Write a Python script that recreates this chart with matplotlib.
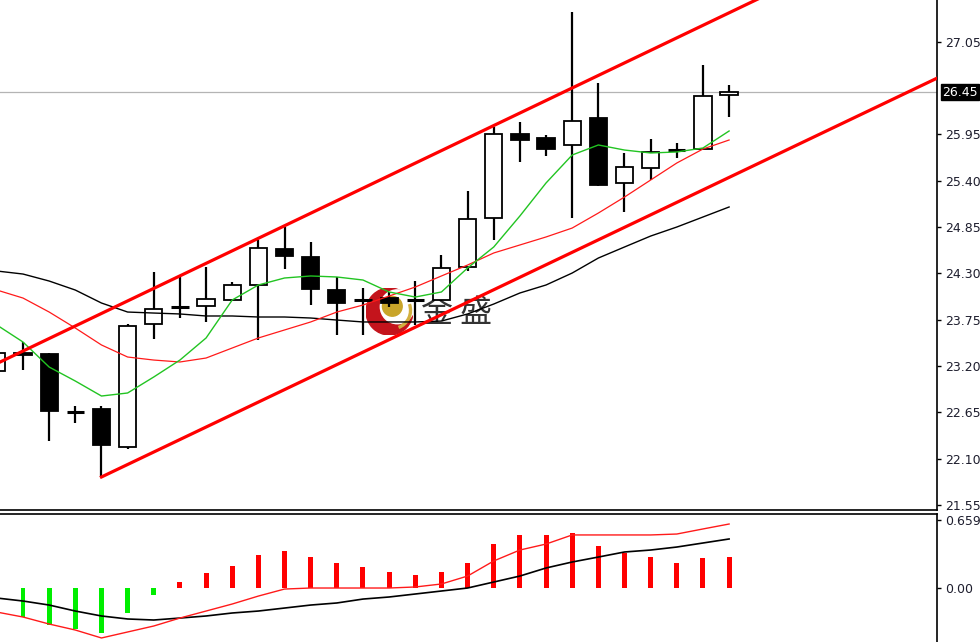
import matplotlib.pyplot as plt
import matplotlib.patches as mpatches
import matplotlib.transforms as mtransforms
import numpy as np

plt.rcParams['font.family'] = ['DejaVu Sans']

# daily candles, oldest -> newest (index 0 is cut by the left edge)
opens = [23.141, 23.355, 23.343, 22.654, 22.690, 22.239, 23.699, 23.905, 23.912, 23.984,
         24.162, 24.589, 24.494, 24.102, 23.984, 24.007, 23.984, 23.984, 24.375, 24.957,
         25.954, 25.907, 25.824, 26.144, 25.373, 25.551, 25.764, 25.776, 26.420]
highs = [23.390, 23.485, 23.355, 22.725, 22.725, 23.699, 24.316, 24.257, 24.375, 24.197,
         24.696, 24.850, 24.672, 24.257, 24.126, 24.079, 24.209, 24.518, 25.278, 26.037,
         26.097, 25.942, 27.403, 26.560, 25.729, 25.895, 25.847, 26.773, 26.536]
lows = [23.117, 23.153, 22.310, 22.524, 21.883, 22.215, 23.521, 23.770, 23.723, 23.970,
        23.509, 24.352, 23.924, 23.568, 23.568, 23.901, 23.687, 23.970, 24.328, 24.696,
        25.622, 25.693, 24.957, 25.340, 25.028, 25.408, 25.669, 25.770, 26.156]
closes = [23.355, 23.331, 22.666, 22.654, 22.262, 23.675, 23.877, 23.905, 23.996, 24.162,
          24.601, 24.506, 24.114, 23.948, 23.984, 23.948, 23.984, 24.364, 24.945, 25.954,
          25.883, 25.776, 26.109, 25.349, 25.563, 25.741, 25.764, 26.405, 26.450]

# moving averages
ma_fast = [23.687, 23.485, 23.188, 23.022, 22.844, 22.880, 23.070, 23.271, 23.533, 23.984,
           24.162, 24.245, 24.269, 24.257, 24.221, 24.079, 24.019, 24.079, 24.364, 24.613,
           24.981, 25.373, 25.705, 25.824, 25.764, 25.729, 25.741, 25.788, 25.990]
ma_mid = [24.102, 24.007, 23.841, 23.651, 23.450, 23.307, 23.271, 23.248, 23.295, 23.414,
          23.533, 23.628, 23.723, 23.841, 23.924, 24.031, 24.138, 24.269, 24.399, 24.542,
          24.637, 24.732, 24.838, 25.016, 25.206, 25.408, 25.610, 25.776, 25.883]
ma_slow = [24.328, 24.292, 24.209, 24.102, 23.948, 23.841, 23.829, 23.818, 23.794, 23.794,
           23.782, 23.782, 23.770, 23.746, 23.723, 23.723, 23.723, 23.734, 23.818, 23.936,
           24.067, 24.162, 24.304, 24.482, 24.613, 24.743, 24.850, 24.969, 25.088]

# channel anchors (candle index, price)
upper_a, upper_b = (1, 23.378), (28, 27.393)
lower_a, lower_b = (4, 21.883), (28, 25.439)

last_price = 26.45
price_ticks = [21.55, 22.10, 22.65, 23.20, 23.75, 24.30, 24.85, 25.40, 25.95, 27.05]

# MACD panel
macd_hist = [np.nan, -0.281, -0.359, -0.397, -0.436, -0.242, -0.068, 0.058, 0.145, 0.213,
             0.320, 0.359, 0.300, 0.242, 0.203, 0.155, 0.126, 0.155, 0.242, 0.422,
             0.514, 0.514, 0.533, 0.407, 0.339, 0.300, 0.242, 0.291, 0.300]
macd_black = [-0.097, -0.126, -0.165, -0.223, -0.271, -0.300, -0.310, -0.291, -0.271, -0.242,
              -0.223, -0.194, -0.165, -0.145, -0.107, -0.087, -0.058, -0.029, 0.000, 0.058,
              0.116, 0.194, 0.252, 0.300, 0.349, 0.368, 0.397, 0.436, 0.475]
macd_red = [-0.233, -0.281, -0.349, -0.407, -0.484, -0.426, -0.368, -0.291, -0.223, -0.155,
            -0.078, -0.010, 0.000, 0.000, 0.000, 0.000, 0.010, 0.039, 0.116, 0.262,
            0.368, 0.426, 0.514, 0.514, 0.514, 0.514, 0.523, 0.572, 0.620]
macd_ticks = [0.659, 0.0]
macd_tick_labels = ['0.659', '0.00']

idx = np.arange(len(opens))

fig = plt.figure(figsize=(9.8, 6.42), dpi=100)
fig.patch.set_facecolor('white')

ax = fig.add_axes([0, 1 - 510 / 642, 937 / 980, 510 / 642])
ax.set_facecolor('none')
ax.set_zorder(1)
sub = fig.add_axes([0, 0, 937 / 980, 1 - 514 / 642])

# logo behind the candles
logo = fig.add_axes([366 / 980, 1 - 335 / 642, 47 / 980, 47 / 642])
logo.set_zorder(0)
logo.set_xlim(-1, 1)
logo.set_ylim(-1, 1)
logo.axis('off')
logo.add_patch(mpatches.Circle((0, 0), 1.0, color='#c4141c'))
logo.add_patch(mpatches.Circle((0.33, 0.2), 0.72, color='white'))
logo.add_patch(mpatches.Circle((0.12, 0.22), 0.42, color='#c9a52a'))
logo.add_patch(mpatches.Arc((0.12, 0.05), 1.55, 1.55, theta1=-70, theta2=20,
                            color='#d2b040', lw=2.4))

ax.text(421 / 937, (510 - 313) / 510, '金 盛', transform=ax.transAxes,
        family=['Noto Sans CJK SC', 'DejaVu Sans'], fontsize=23, color='#333333',
        ha='left', va='center', zorder=0.5)

# current price line
ax.axhline(last_price, color='#b4b4b4', lw=0.9, zorder=1)

# candles
w = 0.66
for i, o, h, l, c in zip(idx, opens, highs, lows, closes):
    ax.vlines(i, l, h, color='black', lw=1.6, zorder=2)
    if abs(c - o) < 0.01:
        ax.hlines(o, i - w / 2, i + w / 2, color='black', lw=2.2, zorder=3)
    else:
        fc = 'white' if c > o else 'black'
        ax.add_patch(mpatches.Rectangle((i - w / 2, min(o, c)), w, abs(c - o),
                                        facecolor=fc, edgecolor='black', lw=1.3, zorder=3))

# moving averages
ax.plot(idx, ma_slow, color='black', lw=1.0, zorder=4)
ax.plot(idx, ma_mid, color='#ff1a1a', lw=0.9, zorder=4)
ax.plot(idx, ma_fast, color='#22c422', lw=1.0, zorder=4)

# channel
xs = np.array([-2, 40])
k_up = (upper_b[1] - upper_a[1]) / (upper_b[0] - upper_a[0])
ax.plot(xs, upper_a[1] + k_up * (xs - upper_a[0]), color='red', lw=2.3, zorder=5)
xs2 = np.array([lower_a[0], 40])
k_lo = (lower_b[1] - lower_a[1]) / (lower_b[0] - lower_a[0])
ax.plot(xs2, lower_a[1] + k_lo * (xs2 - lower_a[0]), color='red', lw=2.3, zorder=5)

ax.set_xlim(0.12, 35.95)
ax.set_ylim(21.491, 27.545)
ax.set_xticks([])
ax.yaxis.tick_right()
ax.set_yticks(price_ticks)
ax.set_yticklabels([f'{t:.2f}' for t in price_ticks])
for s in ('left', 'top'):
    ax.spines[s].set_visible(False)
for s in ('right', 'bottom'):
    ax.spines[s].set_linewidth(1.2)
ax.tick_params(axis='y', direction='out', length=3, width=1, pad=2.5,
               labelsize=9, labelcolor='#1e1e2e')

# last price tag
trans = mtransforms.blended_transform_factory(ax.transAxes, ax.transData)
ax.text(1.0055, last_price, f'{last_price:.2f}', transform=trans, ha='left', va='center',
        color='white', fontsize=9, clip_on=False, zorder=6,
        bbox=dict(boxstyle='square,pad=0.12', fc='black', ec='black'))

# MACD subpanel
hist_colors = ['#ff0000' if v >= 0 else '#00ee00' for v in np.nan_to_num(macd_hist)]
sub.bar(idx, np.nan_to_num(macd_hist), width=0.19, color=hist_colors, zorder=2)
sub.plot(idx, macd_black, color='black', lw=1.2, zorder=3)
sub.plot(idx, macd_red, color='#ff1a1a', lw=1.0, zorder=3)
sub.set_xlim(0.12, 35.95)
sub.set_ylim(-0.523, 0.717)
sub.set_xticks([])
sub.yaxis.tick_right()
sub.set_yticks(macd_ticks)
sub.set_yticklabels(macd_tick_labels)
for s in ('left', 'bottom'):
    sub.spines[s].set_visible(False)
for s in ('right', 'top'):
    sub.spines[s].set_linewidth(1.2)
sub.tick_params(axis='y', direction='out', length=3, width=1, pad=2.5,
                labelsize=9, labelcolor='#1e1e2e')

fig.savefig('out.png', dpi=100, facecolor='white')
